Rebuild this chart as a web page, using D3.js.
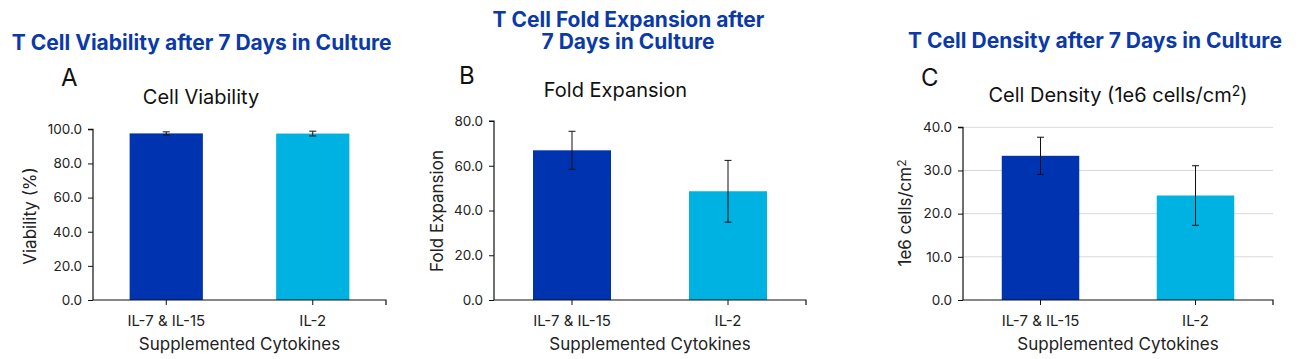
<!DOCTYPE html>
<html>
<head>
<meta charset="utf-8">
<script src="https://cdn.jsdelivr.net/npm/d3@7"></script>
<style>
  html, body { margin: 0; padding: 0; background: #fff; }
  svg { display: block; font-family: Inter, "Noto Sans", sans-serif; }
</style>
</head>
<body>
<svg id="chart" width="1299" height="359"></svg>
<script>
// ---- data ----
const categories = ["IL-7 & IL-15", "IL-2"];
const viability = [97.6, 97.5];
const viabilityErr = [0.9, 1.4];
const foldExpansion = [66.9, 48.6];
const foldErr = [8.5, 13.8];
const density = [33.4, 24.2];
const densityErr = [4.3, 6.9];
const viabilityTicks = [0, 20, 40, 60, 80, 100];
const foldTicks = [0, 20, 40, 60, 80];
const densityTicks = [0, 10, 20, 30, 40];
const barColors = ["#0033b0", "#00b2e2"];

// ---- layout ----
const svg = d3.select("#chart");
const titleBlue = "#0b3aa8";

const panels = [
  {
    values: viability, errs: viabilityErr, ticks: viabilityTicks,
    left: 93, right: 386, top: 129.3, bottom: 300, grid: false,
    letter: "A", letterX: 61, letterY: 86,
    subtitle: [{t: "Cell Viability"}], subX: 201, subY: 104.3,
    ylabel: [{t: "Viability (%)"}], ylabelX: 36, ylabelY: 216,
    title: [["T Cell Viability after 7 Days in Culture", 201.7, 50, 380]]
  },
  {
    values: foldExpansion, errs: foldErr, ticks: foldTicks,
    left: 494, right: 806, top: 121, bottom: 300, grid: false,
    letter: "B", letterX: 459, letterY: 83.5,
    subtitle: [{t: "Fold Expansion"}], subX: 615.5, subY: 97.3,
    ylabel: [{t: "Fold Expansion"}], ylabelX: 443, ylabelY: 211,
    title: [["T Cell Fold Expansion after", 628.5, 26.7, 272], ["7 Days in Culture", 628, 49.3, 173]]
  },
  {
    values: density, errs: densityErr, ticks: densityTicks,
    left: 963, right: 1273, top: 127.3, bottom: 300, grid: true,
    letter: "C", letterX: 921, letterY: 85.5,
    subtitle: [{t: "Cell Density (1e6 cells/cm"}, {t: "2", sup: true}, {t: ")"}], subX: 1118, subY: 101.5,
    ylabel: [{t: "1e6 cells/cm"}, {t: "2", sup: true}], ylabelX: 911, ylabelY: 213,
    title: [["T Cell Density after 7 Days in Culture", 1095, 47.5, 374]]
  }
];

function richText(sel, parts, size) {
  let raised = false;
  parts.forEach(p => {
    const ts = sel.append("tspan").text(p.t);
    if (p.sup) {
      ts.attr("font-size", size * 0.7).attr("dy", -size * 0.3);
      raised = true;
    } else if (raised) {
      ts.attr("dy", size * 0.3);
      raised = false;
    }
  });
}

panels.forEach(p => {
  const g = svg.append("g");
  const x = d3.scaleBand().domain(categories).range([p.left, p.right])
    .paddingInner(0.5).paddingOuter(0.25);
  const y = d3.scaleLinear().domain([0, d3.max(p.ticks)]).range([p.bottom, p.top]);

  // gridlines
  if (p.grid) {
    g.append("g").selectAll("line").data(p.ticks.filter(t => t > 0)).join("line")
      .attr("x1", p.left).attr("x2", p.right)
      .attr("y1", d => y(d)).attr("y2", d => y(d))
      .attr("stroke", "#d9d9d9").attr("stroke-width", 1);
  }

  // bars
  g.append("g").selectAll("rect").data(categories).join("rect")
    .attr("x", d => x(d))
    .attr("width", x.bandwidth())
    .attr("y", (d, i) => y(p.values[i]))
    .attr("height", (d, i) => y(0) - y(p.values[i]))
    .attr("fill", (d, i) => barColors[i]);

  // error bars
  const eb = g.append("g").attr("stroke", "#111").attr("stroke-width", 1);
  categories.forEach((c, i) => {
    const cx = x(c) + x.bandwidth() / 2;
    const hi = y(p.values[i] + p.errs[i]);
    const lo = y(p.values[i] - p.errs[i]);
    eb.append("line").attr("x1", cx).attr("x2", cx).attr("y1", hi).attr("y2", lo);
    eb.append("line").attr("x1", cx - 3.5).attr("x2", cx + 3.5).attr("y1", hi).attr("y2", hi);
    eb.append("line").attr("x1", cx - 3.5).attr("x2", cx + 3.5).attr("y1", lo).attr("y2", lo);
  });

  // y axis
  const yAxis = g.append("g").attr("transform", `translate(${p.left},0)`)
    .call(d3.axisLeft(y).tickValues(p.ticks).tickFormat(d3.format(".1f")).tickSize(5).tickPadding(6));
  yAxis.select(".domain").attr("d", `M-5,${p.top}H0V${p.bottom}`).attr("stroke", "#111").attr("stroke-width", 1.2);
  yAxis.selectAll(".tick line").attr("stroke", "#111");
  yAxis.selectAll(".tick text").attr("font-size", 13.5).attr("fill", "#222")
    .attr("font-family", "Inter, sans-serif");

  // x axis
  const xAxis = g.append("g").attr("transform", `translate(0,${p.bottom})`)
    .call(d3.axisBottom(x).tickSize(5).tickPadding(10));
  xAxis.select(".domain").attr("d", `M${p.left},0H${p.right}V5`).attr("stroke", "#111").attr("stroke-width", 1.2);
  xAxis.selectAll(".tick line").attr("stroke", "#111");
  xAxis.selectAll(".tick text").attr("font-size", 15).attr("fill", "#222")
    .attr("font-family", "Inter, sans-serif").attr("dy", null).attr("y", 26);

  // x title
  g.append("text").attr("x", (p.left + p.right) / 2).attr("y", 350)
    .attr("text-anchor", "middle").attr("font-size", 17).attr("fill", "#222")
    .text("Supplemented Cytokines");

  // y title
  const yl = g.append("text")
    .attr("transform", `translate(${p.ylabelX},${p.ylabelY}) rotate(-90)`)
    .attr("text-anchor", "middle").attr("font-size", 17).attr("fill", "#222");
  richText(yl, p.ylabel, 17);

  // subtitle
  const st = g.append("text").attr("x", p.subX).attr("y", p.subY)
    .attr("text-anchor", "middle").attr("font-size", 20).attr("fill", "#111");
  richText(st, p.subtitle, 20);

  // panel letter
  g.append("text").attr("x", p.letterX).attr("y", p.letterY)
    .attr("font-size", 24).attr("fill", "#111").text(p.letter);

  // blue title(s), scaled to the reference width
  p.title.forEach(([txt, cx, by, w]) => {
    const t = g.append("text").attr("x", cx).attr("y", by)
      .attr("text-anchor", "middle").attr("font-size", 18).attr("font-weight", 700)
      .attr("fill", titleBlue).text(txt);
    const len = t.node().getComputedTextLength();
    if (len > 0) t.attr("font-size", 18 * w / len);
  });
});
</script>
</body>
</html>
